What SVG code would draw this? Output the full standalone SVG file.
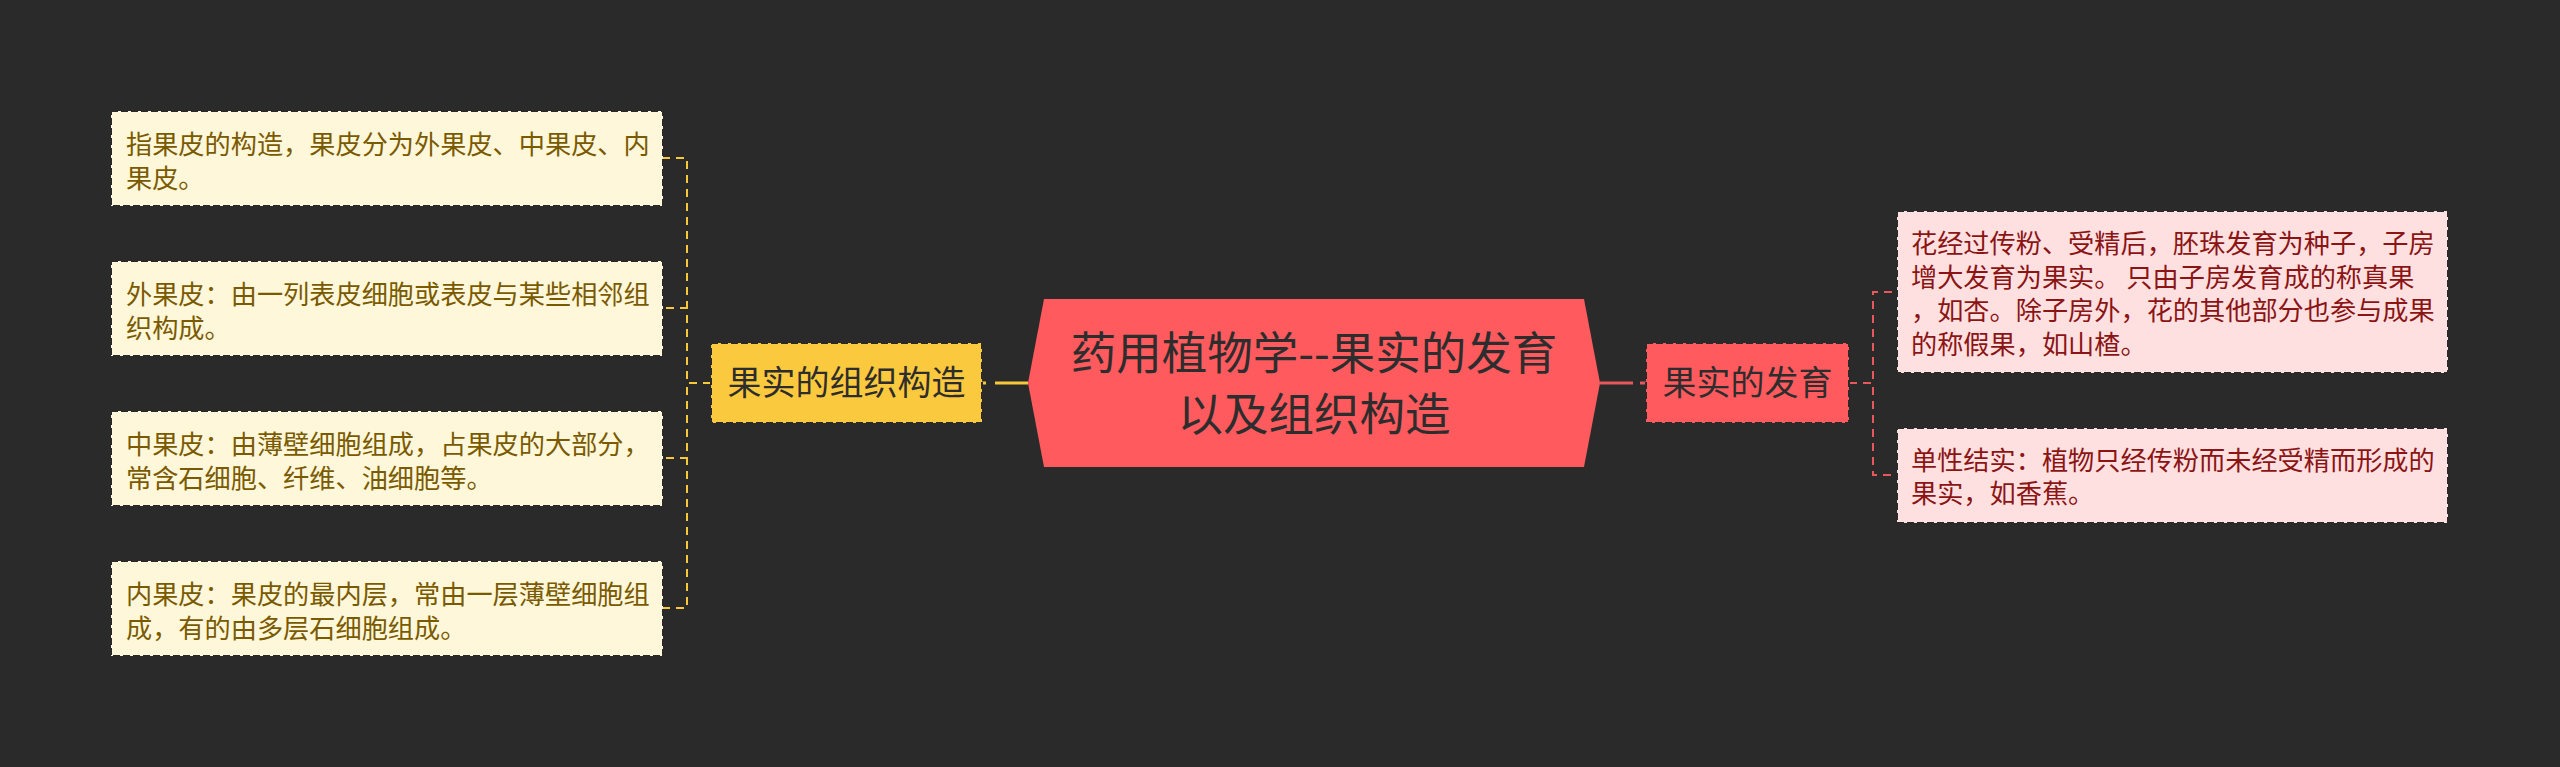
<svg xmlns="http://www.w3.org/2000/svg" width="2560" height="767" viewBox="0 0 2560 767">
<defs>
<style>
text{font-family:"Noto Sans CJK SC","Noto Sans",sans-serif;}
.leafY rect{fill:#fff7da;stroke:#2a2a2a;stroke-width:2;stroke-dasharray:7 3;}
.leafY text{fill:#7a5a00;font-size:26.2px;}
.leafR rect{fill:#ffe0e1;stroke:#2a2a2a;stroke-width:2;stroke-dasharray:7 3;}
.leafR text{fill:#8b1414;font-size:26.2px;}
.main text{fill:#2d2d2d;font-size:34px;text-anchor:middle;}
.main rect{stroke:#2a2a2a;stroke-width:2;stroke-dasharray:7 3;}
.cy{fill:none;stroke:#f6c83a;stroke-width:2;stroke-dasharray:8 6;}
.cr{fill:none;stroke:#e8575b;stroke-width:2;stroke-dasharray:8 6;}
</style>
</defs>
<rect width="2560" height="767" fill="#2a2a2a"/>
<g id="connectors">
<path d="M1028 383H982" fill="none" stroke="#f6c83a" stroke-width="3" stroke-dasharray="33 9 4 100"/>
<path d="M1600 383H1646" fill="none" stroke="#e8575b" stroke-width="3" stroke-dasharray="33 7 6 100"/>
<path class="cy" d="M711 383H687V158H663"/>
<path class="cy" d="M711 383H687V308H663"/>
<path class="cy" d="M711 383H687V458H663"/>
<path class="cy" d="M711 383H687V608H663"/>
<path class="cr" d="M1849 383H1873V292H1897"/>
<path class="cr" d="M1849 383H1873V475H1897"/>
</g>
<g id="root">
<polygon points="1028,383 1044,299 1584,299 1600,383 1584,467 1044,467" fill="#ff5a5e"/>
<text x="1314" y="370" font-size="45.5" fill="#2d2d2d" text-anchor="middle">药用植物学--果实的发育</text>
<text x="1314" y="431" font-size="45.5" fill="#2d2d2d" text-anchor="middle">以及组织构造</text>
</g>
<g id="main-left" class="main">
<rect x="711" y="343" width="271" height="80" fill="#fbc93d"/>
<text x="846.5" y="395">果实的组织构造</text>
</g>
<g id="main-right" class="main">
<rect x="1646" y="343" width="203" height="80" fill="#ff5a5e"/>
<text x="1747.5" y="395">果实的发育</text>
</g>
<g id="leaf-l1" class="leafY">
<rect x="111" y="111" width="552" height="95"/>
<text x="126" y="154">指果皮的构造，果皮分为外果皮、中果皮、内</text>
<text x="126" y="188">果皮。</text>
</g>
<g id="leaf-l2" class="leafY">
<rect x="111" y="261" width="552" height="95"/>
<text x="126" y="304">外果皮：由一列表皮细胞或表皮与某些相邻组</text>
<text x="126" y="338">织构成。</text>
</g>
<g id="leaf-l3" class="leafY">
<rect x="111" y="411" width="552" height="95"/>
<text x="126" y="454">中果皮：由薄壁细胞组成，占果皮的大部分，</text>
<text x="126" y="488">常含石细胞、纤维、油细胞等。</text>
</g>
<g id="leaf-l4" class="leafY">
<rect x="111" y="561" width="552" height="95"/>
<text x="126" y="604">内果皮：果皮的最内层，常由一层薄壁细胞组</text>
<text x="126" y="638">成，有的由多层石细胞组成。</text>
</g>
<g id="leaf-r1" class="leafR">
<rect x="1897" y="211" width="551" height="162"/>
<text x="1911" y="253">花经过传粉、受精后，胚珠发育为种子，子房</text>
<text x="1911" y="287">增大发育为果实。 只由子房发育成的称真果</text>
<text x="1911" y="320">，如杏。除子房外，花的其他部分也参与成果</text>
<text x="1911" y="354">的称假果，如山楂。</text>
</g>
<g id="leaf-r2" class="leafR">
<rect x="1897" y="428" width="551" height="95"/>
<text x="1911" y="470">单性结实：植物只经传粉而未经受精而形成的</text>
<text x="1911" y="503">果实，如香蕉。</text>
</g>
</svg>
